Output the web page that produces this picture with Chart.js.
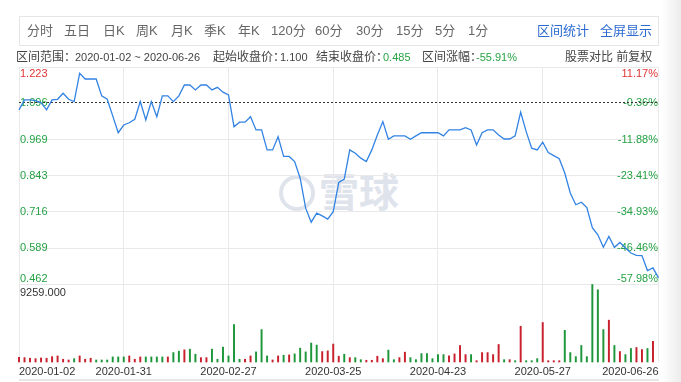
<!DOCTYPE html>
<html>
<head>
<meta charset="utf-8">
<script src="https://cdn.jsdelivr.net/npm/chart.js@4.4.1/dist/chart.umd.min.js"></script>
<style>
  html, body { margin:0; padding:0; background:#fff; }
  body { width:681px; height:382px; position:relative; overflow:hidden;
         font-family:"Liberation Sans","Noto Sans CJK SC",sans-serif; }
  #c { position:absolute; left:0; top:0; z-index:1; }
  #tb { position:absolute; left:19px; top:16px; width:638px; height:28px; border:1px solid #e6e6e6; z-index:2; }
  .tbi { position:absolute; top:17px; line-height:28px; font-size:13px; color:#666; white-space:nowrap; z-index:3; }
  .blue { color:#2d6bd0; }
  .info { position:absolute; top:50px; line-height:15px; font-size:12px; color:#444; white-space:nowrap; z-index:3; }
  .num { font-size:11px; }
  .grn { color:#27a344; }
  #wm { position:absolute; left:279px; top:175px; width:28px; height:28px; border:4px solid #dfe4ec; border-radius:50%; z-index:0; }
  #wmt { position:absolute; left:319px; top:166px; font-size:40px; font-weight:bold; color:#dfe4ec; font-family:"Noto Sans CJK SC",sans-serif; z-index:0; line-height:48px; }
  #edge { position:absolute; left:662px; top:0; width:19px; height:382px; background:linear-gradient(to right,#ffffff,#ececec); z-index:4; }
  #bl { position:absolute; left:19px; top:379px; width:640px; height:2px; background:#e6e6e6; z-index:2; }
</style>
</head>
<body>
<div id="wm"></div>
<div id="wmt">雪球</div>
<canvas id="c" width="681" height="382"></canvas>

<div id="tb"></div>
<span class="tbi" style="left:27px">分时</span>
<span class="tbi" style="left:64px">五日</span>
<span class="tbi" style="left:103px">日K</span>
<span class="tbi" style="left:136px">周K</span>
<span class="tbi" style="left:171px">月K</span>
<span class="tbi" style="left:204px">季K</span>
<span class="tbi" style="left:238px">年K</span>
<span class="tbi" style="left:271px">120分</span>
<span class="tbi" style="left:315px">60分</span>
<span class="tbi" style="left:356px">30分</span>
<span class="tbi" style="left:396px">15分</span>
<span class="tbi" style="left:435px">5分</span>
<span class="tbi" style="left:468px">1分</span>
<span class="tbi blue" style="left:537px">区间统计</span>
<span class="tbi blue" style="left:600px">全屏显示</span>

<span class="info" style="left:16px">区间范围：</span>
<span class="info num" style="left:75px">2020-01-02 ~ 2020-06-26</span>
<span class="info" style="left:213px">起始收盘价：</span>
<span class="info num" style="left:280px">1.100</span>
<span class="info" style="left:316px">结束收盘价：</span>
<span class="info num grn" style="left:383px">0.485</span>
<span class="info" style="left:422px">区间涨幅：</span>
<span class="info num grn" style="left:476px">-55.91%</span>
<span class="info" style="left:565px">股票对比 前复权</span>

<div id="bl"></div>
<div id="edge"></div>

<script>
// ---------- data ----------
const dateTicks = ['2020-01-02','2020-01-31','2020-02-27','2020-03-25','2020-04-23','2020-05-27','2020-06-26'];
const dateTickIdx = [0,19,38,57,76,95,116];
const priceTicks = [1.223,1.096,0.969,0.843,0.716,0.589,0.462];
const pctTicks = ['11.17%','-0.36%','-11.88%','-23.41%','-34.93%','-46.46%','-57.98%'];
const startClose = 1.100;
const volMaxLabel = '9259.000';
const volMax = 9259;

const closes = [
 1.073,1.108,1.108,1.105,1.098,1.073,1.108,1.110,1.131,1.110,
 1.102,1.201,1.181,1.181,1.181,1.122,1.110,1.052,0.993,1.020,
 1.028,1.040,1.102,1.038,1.102,1.049,1.122,1.122,1.102,1.122,
 1.160,1.160,1.143,1.160,1.160,1.143,1.152,1.135,1.125,1.014,
 1.030,1.030,1.049,1.003,1.003,0.933,0.933,0.979,0.910,0.910,
 0.892,0.834,0.729,0.680,0.712,0.702,0.691,0.717,0.819,0.831,
 0.933,0.921,0.904,0.892,0.933,0.985,1.032,0.970,0.982,0.982,
 0.982,0.970,0.982,0.993,0.993,0.993,0.993,0.982,1.003,1.003,
 1.003,1.011,1.003,0.950,0.993,1.003,1.003,0.985,0.971,0.971,
 0.982,1.065,0.997,0.939,0.933,0.960,0.924,0.913,0.902,0.852,
 0.782,0.741,0.750,0.731,0.661,0.636,0.592,0.630,0.592,0.609,
 0.590,0.572,0.564,0.563,0.511,0.520,0.485
];

const volumes = [
 569,520,448,399,484,448,641,726,327,242,
 399,726,327,448,242,242,242,605,605,605,
 726,327,605,605,605,605,605,605,1125,1295,
 1452,1537,932,520,520,1537,327,1779,726,4477,
 327,327,726,1210,3872,726,242,726,811,847,
 968,1658,1210,2263,2021,1246,1331,2142,690,932,
 520,520,278,206,206,690,399,1416,278,520,
 1174,520,278,1004,1004,399,883,883,726,968,
 1972,883,883,157,1125,1125,883,2093,278,278,
 157,4271,157,157,399,4719,157,157,157,3787,
 1125,641,1972,641,9259,8627,3872,4997,1972,1246,
 883,1609,1730,1488,1609,2456
];

// 1 = up day, -1 = down day
const volDir = [
 1,1,1,1,1,1,1,1,1,1,
 -1,1,1,1,-1,-1,-1,-1,-1,-1,
 1,1,1,-1,-1,-1,-1,1,-1,-1,
 1,-1,-1,1,1,-1,-1,-1,-1,-1,
 -1,1,1,-1,-1,-1,1,1,-1,1,
 -1,-1,-1,-1,-1,1,1,1,1,-1,
 1,-1,-1,1,1,1,1,-1,-1,1,
 1,-1,-1,-1,-1,-1,-1,-1,1,1,
 1,1,-1,1,1,1,1,1,-1,1,
 -1,1,-1,-1,-1,1,1,1,1,-1,
 -1,-1,-1,-1,-1,-1,-1,1,-1,1,
 -1,-1,1,1,-1,1
];

// ---------- style / layout ----------
const RED = '#e03434', GREEN = '#25a244', BAR_RED = '#c8202c', BAR_GREEN = '#1e963a';
const LINE = '#3283e4', GRID = '#e9e9e9';
const PRICE_H = 217.5, VOL_H = 77.5;   // pixel heights of the two panes
const FONT = '"Liberation Sans","Noto Sans CJK SC",sans-serif';
Chart.defaults.font.family = FONT;

const pMax = priceTicks[0], pMin = priceTicks[priceTicks.length-1];
const yMin = pMax - (pMax - pMin) * (PRICE_H + VOL_H) / PRICE_H;
const yvMax = volMax * (PRICE_H + VOL_H) / VOL_H;

const overlay = {
  id:'overlay',
  beforeDatasetsDraw(chart) {
    const c = chart.ctx, a = chart.chartArea, ys = chart.scales.y, yv = chart.scales.yv;
    c.save();
    c.font = '11px ' + FONT;
    const n = priceTicks.length;
    priceTicks.forEach((v, i) => {
      const py = ys.getPixelForValue(v);
      let yy = py;
      if (i === 0) { c.textBaseline = 'top'; yy = py + 1.5; }
      else if (i === n-1) { c.textBaseline = 'alphabetic'; yy = py - 3; }
      else { c.textBaseline = 'middle'; }
      c.fillStyle = i === 0 ? RED : GREEN;
      c.textAlign = 'left';
      c.fillText(v.toFixed(3), a.left + 1, yy);
      c.textAlign = 'right';
      c.fillText(pctTicks[i], a.right - 0.5, yy);
    });
    c.fillStyle = '#333';
    c.textAlign = 'left';
    c.textBaseline = 'alphabetic';
    c.fillText(volMaxLabel, a.left + 1, yv.getPixelForValue(volMax) + 11.5);
    // start close reference line
    const by = Math.round(ys.getPixelForValue(startClose)) + 0.5;
    c.setLineDash([2,2]);
    c.strokeStyle = '#333';
    c.lineWidth = 1;
    c.beginPath(); c.moveTo(a.left, by); c.lineTo(a.right, by); c.stroke();
    c.restore();
  }
};

new Chart(document.getElementById('c'), {
  data: {
    datasets: [
      { type:'line', data: closes.map((v,i)=>({x:i, y:v})), xAxisID:'x', yAxisID:'y',
        borderColor: LINE, borderWidth: 1.3, pointRadius: 0, tension: 0, clip: false, order: 0 },
      { type:'bar', data: volumes.map((v,i)=>({x:i, y:v})), xAxisID:'x', yAxisID:'yv',
        backgroundColor: volDir.map(d => d > 0 ? BAR_RED : BAR_GREEN),
        barThickness: 1.3, clip: false, order: 1 }
    ]
  },
  options: {
    responsive: false, animation: false, events: [],
    layout: { padding: { left: 19, right: 22.5, top: 67, bottom: 0 } },
    plugins: { legend: { display:false }, tooltip: { enabled:false } },
    scales: {
      x: {
        type:'linear', min: 0, max: closes.length - 1, offset: false,
        afterBuildTicks: s => { s.ticks = dateTickIdx.map(v => ({ value: v })); },
        ticks: { callback: (v, i) => dateTicks[i], align:'inner', autoSkip:false, maxRotation:0,
                 padding: 3, font: { size: 11 }, color:'#333' },
        grid: { color: GRID, drawTicks:false, offset: false },
        border: { display:false },
        afterFit: s => { s.height = 20; s.paddingLeft = 0; s.paddingRight = 0; }
      },
      y: {
        min: yMin, max: pMax,
        afterBuildTicks: s => { s.ticks = priceTicks.map(v => ({ value: v })); },
        ticks: { display:false },
        grid: { color: c => (c.tick && c.tick.value === priceTicks[1]) ? 'rgba(0,0,0,0)' : GRID, drawTicks:false },
        border: { display:false },
        afterFit: s => { s.width = 0; s.paddingTop = 0; s.paddingBottom = 0; }
      },
      yv: { min: 0, max: yvMax, display: false }
    }
  },
  plugins: [overlay]
});
</script>
</body>
</html>
